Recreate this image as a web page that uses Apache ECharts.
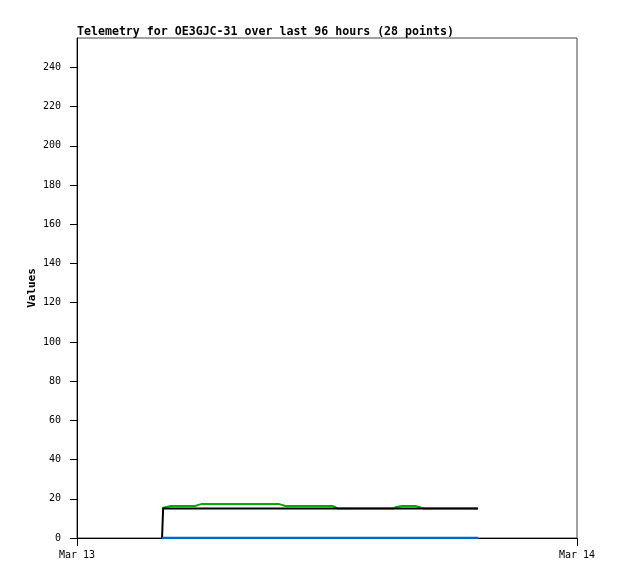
<!DOCTYPE html>
<html>
<head>
<meta charset="utf-8">
<script src="https://cdn.jsdelivr.net/npm/echarts@6/dist/echarts.min.js"></script>
<style>
  html, body { margin: 0; padding: 0; background: #fff; }
  #chart { width: 618px; height: 579px; }
</style>
</head>
<body>
<div id="chart"></div>
<script>
// sample times (local)
const times = [
  '2024-03-13 04:05', '2024-03-13 04:08', '2024-03-13 04:30', '2024-03-13 05:40',
  '2024-03-13 05:50', '2024-03-13 06:00', '2024-03-13 06:40', '2024-03-13 07:40',
  '2024-03-13 08:40', '2024-03-13 09:40', '2024-03-13 09:50', '2024-03-13 10:00',
  '2024-03-13 10:50', '2024-03-13 11:40', '2024-03-13 12:15', '2024-03-13 12:22',
  '2024-03-13 12:32', '2024-03-13 13:20', '2024-03-13 14:20', '2024-03-13 15:10',
  '2024-03-13 15:20', '2024-03-13 15:35', '2024-03-13 16:15', '2024-03-13 16:25',
  '2024-03-13 16:38', '2024-03-13 17:30', '2024-03-13 18:25', '2024-03-13 19:15'
]
const greenValues = [
  15.3, 15.3, 16.3, 16.3, 16.9, 17.4, 17.4, 17.4, 17.4, 17.4, 16.9, 16.3, 16.3, 16.3,
  16.3, 15.8, 15, 15, 15, 15, 15.8, 16.3, 16.3, 15.8, 15, 15, 15, 15
]
const blackValues = [
  0, 15, 15, 15, 15, 15, 15, 15, 15, 15, 15, 15, 15, 15,
  15, 15, 15, 15, 15, 15, 15, 15, 15, 15, 15, 15, 15, 15
]
const blueValues = [
  0, 0, 0, 0, 0, 0, 0, 0, 0, 0, 0, 0, 0, 0,
  0, 0, 0, 0, 0, 0, 0, 0, 0, 0, 0, 0, 0, 0
]
const yTicks = [0, 20, 40, 60, 80, 100, 120, 140, 160, 180, 200, 220, 240]
const xTickTimes = ['2024-03-13 00:00', '2024-03-14 00:00']
const xTickLabels = ['Mar 13', 'Mar 14']

const toTs = (s) => {
  const [d, t] = s.split(' ')
  const [y, m, dd] = d.split('-').map(Number)
  const [hh, mm] = t.split(':').map(Number)
  return new Date(y, m - 1, dd, hh, mm).getTime()
}
const xTickTs = xTickTimes.map(toTs)
const pair = (vals) => times.map((t, i) => [toTs(t), vals[i]])

const mono = 'DejaVu Sans Mono'
const chart = echarts.init(document.getElementById('chart'))

const options = {
  animation: false,
  title: {
    text: 'Telemetry for OE3GJC-31 over last 96 hours (28 points)',
    left: 77,
    top: 26,
    padding: 0,
    textStyle: { fontFamily: mono, fontSize: 11.6, fontWeight: 'bold', color: '#000' }
  },
  grid: {
    left: 77, top: 38, right: 41, bottom: 41,
    show: true, borderColor: '#444', borderWidth: 1
  },
  xAxis: {
    type: 'value',
    min: xTickTs[0],
    max: xTickTs[xTickTs.length - 1],
    axisLine: { lineStyle: { color: '#000', width: 1 } },
    axisTick: { show: true, length: 8, customValues: xTickTs, lineStyle: { color: '#000' } },
    axisLabel: {
      customValues: xTickTs,
      formatter: (v) => xTickLabels[xTickTs.indexOf(v)] || '',
      fontFamily: mono, fontSize: 10, color: '#000', margin: 12
    },
    splitLine: { show: false }
  },
  yAxis: {
    type: 'value',
    min: 0,
    max: 255,
    name: 'Values',
    nameLocation: 'middle',
    nameGap: 39,
    nameMoveOverlap: false,
    nameTextStyle: { fontFamily: mono, fontSize: 11, fontWeight: 'bold', color: '#000' },
    axisLine: { show: true, lineStyle: { color: '#000', width: 1 } },
    axisTick: { show: true, length: 7, customValues: yTicks, lineStyle: { color: '#000' } },
    axisLabel: {
      customValues: yTicks,
      fontFamily: mono, fontSize: 10, color: '#000', margin: 16
    },
    splitLine: { show: false }
  },
  series: [
    {
      type: 'line', data: pair(greenValues), showSymbol: false,
      lineStyle: { color: '#00aa00', width: 2 }, itemStyle: { color: '#00aa00' }
    },
    {
      type: 'line', data: pair(blackValues), showSymbol: false,
      lineStyle: { color: '#000', width: 2 }, itemStyle: { color: '#000' }
    },
    {
      type: 'line', data: pair(blueValues), showSymbol: false,
      lineStyle: { color: '#0066cc', width: 2.5 }, itemStyle: { color: '#0066cc' }
    }
  ]
}
chart.setOption(options)
</script>
</body>
</html>
